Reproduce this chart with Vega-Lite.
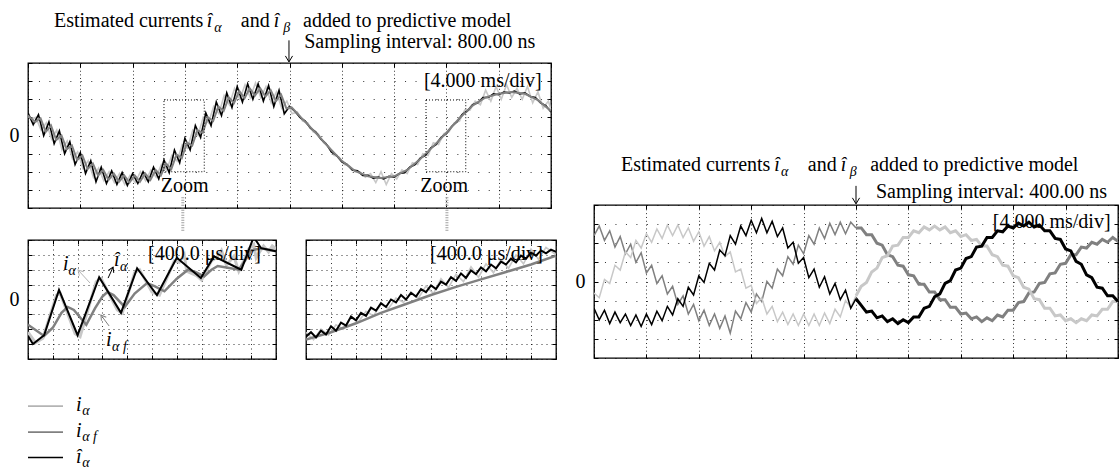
{
"$schema":"https://vega.github.io/schema/vega-lite/v6.json",
"background":"white",
"padding":{"left":8,"top":10,"right":0,"bottom":0},
"config":{
 "font":"Liberation Serif",
 "view":{"stroke":"black","strokeWidth":1.3},
 "axis":{"domain":false,"tickColor":"black","tickSize":-4,"tickWidth":1,"gridColor":"black","gridWidth":1,"gridOpacity":0.8,"labelFont":"Liberation Serif","labelFontSize":{"condition":{"test":"datum.value === 0","value":20},"value":0.1},"labelColor":"black","labelPadding":13,"labelOverlap":false},
 "text":{"font":"Liberation Serif","fontSize":20,"color":"black","align":"left","baseline":"alphabetic"}
},
"spacing":16,
"hconcat":[
 {"spacing":4,"vconcat":[
   {"width":523,"height":145,
    "resolve":{"axis":{"x":"independent","y":"independent"}},
    "layer":[
     {"data":{"values":[{"x":0,"y":1.1},{"x":0.05,"y":0.9},{"x":0.15,"y":1.0},{"x":0.25,"y":0.3},{"x":0.35,"y":0.7},{"x":0.45,"y":-0.2},{"x":0.55,"y":0.3},{"x":0.65,"y":-0.8},{"x":0.75,"y":-0.3},{"x":0.85,"y":-1.3},{"x":0.95,"y":-0.9},{"x":1.05,"y":-1.8},{"x":1.15,"y":-1.4},{"x":1.25,"y":-2.3},{"x":1.35,"y":-1.8},{"x":1.45,"y":-2.5},{"x":1.55,"y":-2.0},{"x":1.65,"y":-2.6},{"x":1.75,"y":-2.1},{"x":1.85,"y":-2.7},{"x":1.95,"y":-2.2},{"x":2.05,"y":-2.6},{"x":2.15,"y":-2.0},{"x":2.25,"y":-2.5},{"x":2.35,"y":-1.9},{"x":2.45,"y":-2.3},{"x":2.55,"y":-1.6},{"x":2.65,"y":-1.9},{"x":2.75,"y":-1.1},{"x":2.85,"y":-1.4},{"x":2.95,"y":-0.5},{"x":3.05,"y":-0.7},{"x":3.15,"y":0.3},{"x":3.25,"y":0.0},{"x":3.35,"y":1.0},{"x":3.45,"y":0.7},{"x":3.55,"y":1.6},{"x":3.65,"y":1.2},{"x":3.75,"y":2.2},{"x":3.85,"y":1.7},{"x":3.95,"y":2.6},{"x":4.05,"y":2.0},{"x":4.15,"y":2.8},{"x":4.25,"y":2.1},{"x":4.35,"y":2.9},{"x":4.45,"y":2.1},{"x":4.55,"y":2.7},{"x":4.65,"y":1.8},{"x":4.75,"y":2.4},{"x":4.85,"y":1.5},{"x":4.95,"y":1.9},{"x":5.05,"y":1.2},{"x":5.15,"y":1.3},{"x":5.25,"y":0.8},{"x":5.35,"y":0.7},{"x":5.45,"y":0.2},{"x":5.55,"y":0.1},{"x":5.65,"y":-0.4},{"x":5.75,"y":-0.6},{"x":5.85,"y":-1.1},{"x":5.95,"y":-1.2},{"x":6.05,"y":-1.6},{"x":6.15,"y":-1.7},{"x":6.25,"y":-2.0},{"x":6.35,"y":-2.0},{"x":6.45,"y":-2.3},{"x":6.55,"y":-2.1},{"x":6.65,"y":-2.6},{"x":6.75,"y":-2.0},{"x":6.85,"y":-2.7},{"x":6.95,"y":-2.1},{"x":7.05,"y":-2.4},{"x":7.15,"y":-1.9},{"x":7.25,"y":-2.1},{"x":7.35,"y":-1.5},{"x":7.45,"y":-1.6},{"x":7.55,"y":-1.0},{"x":7.65,"y":-1.1},{"x":7.75,"y":-0.4},{"x":7.85,"y":-0.5},{"x":7.95,"y":0.1},{"x":8.05,"y":0.2},{"x":8.15,"y":0.7},{"x":8.25,"y":0.8},{"x":8.35,"y":1.4},{"x":8.45,"y":1.4},{"x":8.55,"y":1.9},{"x":8.65,"y":1.7},{"x":8.75,"y":2.5},{"x":8.85,"y":1.9},{"x":8.95,"y":2.7},{"x":9.05,"y":2.0},{"x":9.15,"y":2.8},{"x":9.25,"y":2.1},{"x":9.35,"y":2.6},{"x":9.45,"y":2.0},{"x":9.55,"y":2.7},{"x":9.65,"y":1.8},{"x":9.75,"y":2.4},{"x":9.85,"y":1.5},{"x":9.95,"y":1.9},{"x":10,"y":1.4}]},
      "mark":{"type":"line","color":"#c8c8c8","strokeWidth":1.6,"clip":true},
      "encoding":{
       "x":{"field":"x","type":"quantitative","scale":{"domain":[0,10],"nice":false,"zero":false},"axis":{"orient":"bottom","values":[0,1,2,3,4,5,6,7,8,9,10],"labels":false,"title":null,"grid":true,"gridDash":[1,2.62]}},
       "y":{"field":"y","type":"quantitative","scale":{"domain":[-4,4],"nice":false,"zero":false},"axis":{"orient":"left","values":[-4,-3,-2,-1,0,1,2,3,4],"title":null,"grid":true,"gridDash":[1,9.46],"labelExpr":"datum.value === 0 ? '0' : ''"}}}},
     {"data":{"values":[{"x":0,"y":1.25},{"x":0.1,"y":0.6},{"x":0.2,"y":1.15},{"x":0.3,"y":0.0},{"x":0.4,"y":0.75},{"x":0.5,"y":-0.45},{"x":0.6,"y":0.25},{"x":0.7,"y":-1.0},{"x":0.8,"y":-0.35},{"x":0.9,"y":-1.6},{"x":1.0,"y":-0.95},{"x":1.1,"y":-2.1},{"x":1.2,"y":-1.4},{"x":1.3,"y":-2.55},{"x":1.4,"y":-1.75},{"x":1.5,"y":-2.65},{"x":1.6,"y":-1.95},{"x":1.7,"y":-2.7},{"x":1.8,"y":-2.05},{"x":1.9,"y":-2.75},{"x":2.0,"y":-2.1},{"x":2.1,"y":-2.65},{"x":2.2,"y":-2.0},{"x":2.3,"y":-2.55},{"x":2.4,"y":-1.75},{"x":2.5,"y":-2.4},{"x":2.6,"y":-1.35},{"x":2.7,"y":-2.05},{"x":2.8,"y":-0.8},{"x":2.9,"y":-1.5},{"x":3.0,"y":-0.15},{"x":3.1,"y":-0.8},{"x":3.2,"y":0.55},{"x":3.3,"y":-0.1},{"x":3.4,"y":1.25},{"x":3.5,"y":0.55},{"x":3.6,"y":1.85},{"x":3.7,"y":1.1},{"x":3.8,"y":2.35},{"x":3.9,"y":1.55},{"x":4.0,"y":2.7},{"x":4.1,"y":1.85},{"x":4.2,"y":2.85},{"x":4.3,"y":2.0},{"x":4.4,"y":2.85},{"x":4.5,"y":1.9},{"x":4.6,"y":2.75},{"x":4.7,"y":1.6},{"x":4.8,"y":2.5},{"x":4.9,"y":1.2},{"x":5.0,"y":1.6},{"x":5.1,"y":1.35},{"x":5.2,"y":1.0},{"x":5.3,"y":0.8},{"x":5.4,"y":0.4},{"x":5.5,"y":0.2},{"x":5.6,"y":-0.2},{"x":5.7,"y":-0.45},{"x":5.8,"y":-0.9},{"x":5.9,"y":-1.1},{"x":6.0,"y":-1.45},{"x":6.1,"y":-1.6},{"x":6.2,"y":-1.9},{"x":6.3,"y":-1.95},{"x":6.4,"y":-2.2},{"x":6.5,"y":-2.2},{"x":6.6,"y":-2.35},{"x":6.7,"y":-2.3},{"x":6.8,"y":-2.4},{"x":6.9,"y":-2.25},{"x":7.0,"y":-2.3},{"x":7.1,"y":-2.1},{"x":7.2,"y":-2.05},{"x":7.3,"y":-1.75},{"x":7.4,"y":-1.6},{"x":7.5,"y":-1.25},{"x":7.6,"y":-1.1},{"x":7.7,"y":-0.7},{"x":7.8,"y":-0.5},{"x":7.9,"y":-0.1},{"x":8.0,"y":0.1},{"x":8.1,"y":0.5},{"x":8.2,"y":0.75},{"x":8.3,"y":1.15},{"x":8.4,"y":1.35},{"x":8.5,"y":1.7},{"x":8.6,"y":1.8},{"x":8.7,"y":2.1},{"x":8.8,"y":2.1},{"x":8.9,"y":2.3},{"x":9.0,"y":2.25},{"x":9.1,"y":2.4},{"x":9.2,"y":2.35},{"x":9.3,"y":2.45},{"x":9.4,"y":2.3},{"x":9.5,"y":2.35},{"x":9.6,"y":2.15},{"x":9.7,"y":2.1},{"x":9.8,"y":1.8},{"x":9.9,"y":1.65},{"x":10.0,"y":1.3}]},
      "mark":{"type":"line","color":"#000000","strokeWidth":1.6,"clip":true},
      "encoding":{"x":{"field":"x","type":"quantitative","axis":null},"y":{"field":"y","type":"quantitative","axis":null}}},
     {"data":{"values":[{"x":0,"y":1.1},{"x":0.14,"y":0.75},{"x":0.24,"y":0.95},{"x":0.34,"y":0.2},{"x":0.44,"y":0.55},{"x":0.54,"y":-0.25},{"x":0.64,"y":0.0},{"x":0.74,"y":-0.75},{"x":0.84,"y":-0.55},{"x":0.94,"y":-1.35},{"x":1.04,"y":-1.1},{"x":1.14,"y":-1.85},{"x":1.24,"y":-1.55},{"x":1.34,"y":-2.2},{"x":1.44,"y":-1.9},{"x":1.54,"y":-2.45},{"x":1.64,"y":-2.1},{"x":1.74,"y":-2.55},{"x":1.84,"y":-2.2},{"x":1.94,"y":-2.6},{"x":2.04,"y":-2.2},{"x":2.14,"y":-2.55},{"x":2.24,"y":-2.1},{"x":2.34,"y":-2.45},{"x":2.44,"y":-1.9},{"x":2.54,"y":-2.2},{"x":2.64,"y":-1.55},{"x":2.74,"y":-1.85},{"x":2.84,"y":-1.05},{"x":2.94,"y":-1.25},{"x":3.04,"y":-0.4},{"x":3.14,"y":-0.55},{"x":3.24,"y":0.3},{"x":3.34,"y":0.15},{"x":3.44,"y":1.0},{"x":3.54,"y":0.8},{"x":3.64,"y":1.6},{"x":3.74,"y":1.35},{"x":3.84,"y":2.1},{"x":3.94,"y":1.8},{"x":4.04,"y":2.45},{"x":4.14,"y":2.05},{"x":4.24,"y":2.6},{"x":4.34,"y":2.2},{"x":4.44,"y":2.6},{"x":4.54,"y":2.15},{"x":4.64,"y":2.5},{"x":4.74,"y":1.9},{"x":4.84,"y":2.25},{"x":4.94,"y":1.5},{"x":5.04,"y":1.55},{"x":5.25,"y":0.9},{"x":5.5,"y":0.15},{"x":5.75,"y":-0.65},{"x":6.0,"y":-1.4},{"x":6.25,"y":-1.95},{"x":6.5,"y":-2.25},{"x":6.75,"y":-2.35},{"x":7.0,"y":-2.25},{"x":7.25,"y":-1.9},{"x":7.5,"y":-1.3},{"x":7.75,"y":-0.6},{"x":8.0,"y":0.15},{"x":8.25,"y":0.95},{"x":8.5,"y":1.65},{"x":8.75,"y":2.1},{"x":9.0,"y":2.3},{"x":9.25,"y":2.4},{"x":9.5,"y":2.3},{"x":9.75,"y":1.95},{"x":10.0,"y":1.35}]},
      "mark":{"type":"line","color":"#808080","strokeWidth":2,"clip":true},
      "encoding":{"x":{"field":"x","type":"quantitative","axis":null},"y":{"field":"y","type":"quantitative","axis":null}}},
     {"data":{"values":[{"x":0,"y":0}]},
      "mark":{"type":"point","opacity":0},
      "encoding":{"x":{"field":"x","type":"quantitative","axis":{"orient":"top","values":[0,1,2,3,4,5,6,7,8,9,10],"labels":false,"title":null,"grid":false}},"y":{"field":"y","type":"quantitative","axis":{"orient":"right","values":[-4,-3,-2,-1,0,1,2,3,4],"labels":false,"title":null,"grid":false}}}},
     {"data":{"values":[{"x":2.6,"x2":3.37,"y":-2,"y2":1.96},{"x":7.61,"x2":8.37,"y":-2,"y2":1.96}]},
      "mark":{"type":"rect","filled":false,"stroke":"black","strokeWidth":1,"strokeDash":[1,2]},
      "encoding":{"x":{"field":"x","type":"quantitative","axis":null},"x2":{"field":"x2"},"y":{"field":"y","type":"quantitative","axis":null},"y2":{"field":"y2"}}},
     {"data":{"values":[{"x":2.96,"y":-3.4,"y2":-5.3},{"x":8.01,"y":-3.4,"y2":-5.3}]},
      "mark":{"type":"rule","color":"#a0a0a0","strokeWidth":3,"strokeDash":[1,1.5]},
      "encoding":{"x":{"field":"x","type":"quantitative","axis":null},"y":{"field":"y","type":"quantitative","axis":null},"y2":{"field":"y2"}}},
     {"data":{"values":[{"x":4.99,"y":5.25,"y2":4.08}]},
      "mark":{"type":"rule","color":"black","strokeWidth":1},
      "encoding":{"x":{"field":"x","type":"quantitative","axis":null},"y":{"field":"y","type":"quantitative","axis":null},"y2":{"field":"y2"}}},
     {"data":{"values":[{"x":4.99,"y":4.06}]},
      "mark":{"type":"point","shape":"M-0.6,-1L0,0L0.6,-1","size":144,"filled":false,"stroke":"black","strokeWidth":1,"opacity":1},
      "encoding":{"x":{"field":"x","type":"quantitative","axis":null},"y":{"field":"y","type":"quantitative","axis":null}}},
     {"data":{"values":[{"x":0.497,"y":6.0,"t":"Estimated currents"},{"x":4.07,"y":6.0,"t":"and"},{"x":5.26,"y":6.0,"t":"added to predictive model"},{"x":5.28,"y":4.83,"t":"Sampling interval: 800.00 ns"},{"x":7.57,"y":2.68,"t":"[4.000 ms/div]"},{"x":2.54,"y":-3.12,"t":"Zoom"},{"x":7.5,"y":-3.12,"t":"Zoom"}]},
      "mark":{"type":"text"},
      "encoding":{"x":{"field":"x","type":"quantitative","axis":null},"y":{"field":"y","type":"quantitative","axis":null},"text":{"field":"t"}}},
     {"data":{"values":[{"x":3.42,"y":6.0,"t":"î"},{"x":4.7,"y":6.0,"t":"î"}]},
      "mark":{"type":"text","fontStyle":"italic"},
      "encoding":{"x":{"field":"x","type":"quantitative","axis":null},"y":{"field":"y","type":"quantitative","axis":null},"text":{"field":"t"}}},
     {"data":{"values":[{"x":3.56,"y":6.0,"t":"α"},{"x":4.88,"y":6.0,"t":"β"}]},
      "mark":{"type":"text","fontStyle":"italic","fontSize":14,"dy":5},
      "encoding":{"x":{"field":"x","type":"quantitative","axis":null},"y":{"field":"y","type":"quantitative","axis":null},"text":{"field":"t"}}}
    ]},
   {"spacing":24,"hconcat":[
    {"width":248,"height":119,
     "resolve":{"axis":{"x":"independent","y":"independent"}},
     "layer":[
      {"data":{"values":[{"x":0,"y":-2.2},{"x":0.3,"y":-2.9},{"x":0.6,"y":-2.6},{"x":1.15,"y":0.3},{"x":1.3,"y":0.4},{"x":1.9,"y":-2.3},{"x":2.1,"y":-2.5},{"x":2.75,"y":1.2},{"x":2.95,"y":1.4},{"x":3.6,"y":-0.7},{"x":3.8,"y":-0.9},{"x":4.3,"y":1.8},{"x":4.5,"y":2.0},{"x":5.0,"y":0.5},{"x":5.3,"y":0.3},{"x":5.9,"y":2.6},{"x":6.1,"y":2.5},{"x":6.3,"y":3.0},{"x":6.4,"y":1.9},{"x":6.8,"y":1.6},{"x":7.0,"y":1.3},{"x":7.4,"y":2.6},{"x":7.6,"y":2.8},{"x":7.8,"y":3.3},{"x":8.0,"y":2.3},{"x":8.3,"y":2.9},{"x":8.5,"y":1.9},{"x":8.7,"y":2.6},{"x":8.9,"y":3.4},{"x":9.1,"y":3.7},{"x":9.2,"y":2.8},{"x":9.3,"y":3.1},{"x":9.5,"y":3.6},{"x":9.7,"y":3.2},{"x":9.85,"y":3.6},{"x":10,"y":3.4}]},
       "mark":{"type":"line","color":"#c8c8c8","strokeWidth":3,"clip":true},
       "encoding":{
        "x":{"field":"x","type":"quantitative","scale":{"domain":[0,10],"nice":false,"zero":false},"axis":{"orient":"bottom","values":[0,1,2,3,4,5,6,7,8,9,10],"labels":false,"title":null,"grid":true,"gridDash":[1,3.5]}},
        "y":{"field":"y","type":"quantitative","scale":{"domain":[-4,4],"nice":false,"zero":false},"axis":{"orient":"left","values":[-4,-3,-2,-1,0,1,2,3,4],"title":null,"grid":true,"gridDash":[1,4],"labelExpr":"datum.value === 0 ? '0' : ''"}}}},
      {"data":{"values":[{"x":0,"y":-1.7},{"x":0.65,"y":-2.45},{"x":1.0,"y":-1.9},{"x":1.35,"y":-0.9},{"x":1.6,"y":-0.5},{"x":1.85,"y":-0.7},{"x":2.35,"y":-1.7},{"x":2.7,"y":-0.6},{"x":3.0,"y":0.2},{"x":3.2,"y":0.5},{"x":3.45,"y":0.3},{"x":3.9,"y":-0.5},{"x":4.3,"y":0.4},{"x":4.8,"y":1.1},{"x":5.1,"y":0.9},{"x":5.5,"y":0.55},{"x":6.0,"y":1.4},{"x":6.45,"y":2.0},{"x":6.75,"y":1.85},{"x":7.1,"y":1.55},{"x":7.4,"y":2.0},{"x":7.65,"y":2.25},{"x":8.0,"y":2.15},{"x":8.5,"y":2.0},{"x":8.75,"y":2.6},{"x":9.0,"y":3.3},{"x":9.4,"y":3.45},{"x":10,"y":3.25}]},
       "mark":{"type":"line","color":"#808080","strokeWidth":2.5,"clip":true},
       "encoding":{"x":{"field":"x","type":"quantitative","axis":null},"y":{"field":"y","type":"quantitative","axis":null}}},
      {"data":{"values":[{"x":0,"y":-2.45},{"x":0.2,"y":-3.0},{"x":0.65,"y":-2.4},{"x":1.25,"y":0.65},{"x":2.0,"y":-2.4},{"x":2.87,"y":1.5},{"x":3.75,"y":-0.9},{"x":4.4,"y":2.1},{"x":5.2,"y":0.3},{"x":6.0,"y":2.8},{"x":6.97,"y":1.45},{"x":7.5,"y":2.9},{"x":8.6,"y":2.0},{"x":9.1,"y":4.2},{"x":9.4,"y":3.45},{"x":10,"y":3.25}]},
       "mark":{"type":"line","color":"#000000","strokeWidth":2,"clip":true},
       "encoding":{"x":{"field":"x","type":"quantitative","axis":null},"y":{"field":"y","type":"quantitative","axis":null}}},
      {"data":{"values":[{"x":0,"y":0}]},
       "mark":{"type":"point","opacity":0},
       "encoding":{"x":{"field":"x","type":"quantitative","axis":{"orient":"top","values":[0,1,2,3,4,5,6,7,8,9,10],"labels":false,"title":null,"grid":false}},"y":{"field":"y","type":"quantitative","axis":{"orient":"right","values":[-4,-3,-2,-1,0,1,2,3,4],"labels":false,"title":null,"grid":false}}}},
      {"data":{"values":[{"x":2.5,"y":1.11,"x2":2.02,"y2":1.98,"c":"a"},{"x":3.23,"y":1.44,"x2":3.43,"y2":2.18,"c":"c"},{"x":3.27,"y":-1.78,"x2":2.94,"y2":-1.04,"c":"b"}]},
       "mark":{"type":"rule","strokeWidth":1},
       "encoding":{"x":{"field":"x","type":"quantitative","axis":null},"y":{"field":"y","type":"quantitative","axis":null},"x2":{"field":"x2"},"y2":{"field":"y2"},"color":{"field":"c","type":"nominal","scale":{"domain":["a","b","c"],"range":["#b4b4b4","#808080","#000000"]},"legend":null}}},
      {"data":{"values":[{"x":2.02,"y":1.98,"a":-43,"c":"a"},{"x":3.43,"y":2.18,"a":24,"c":"c"},{"x":2.94,"y":-1.04,"a":-36,"c":"b"}]},
       "mark":{"type":"point","shape":"M-0.6,1L0,0L0.6,1","size":100,"filled":false,"strokeWidth":1,"opacity":1},
       "encoding":{"x":{"field":"x","type":"quantitative","axis":null},"y":{"field":"y","type":"quantitative","axis":null},"angle":{"field":"a","type":"quantitative","scale":null},"color":{"field":"c","type":"nominal","scale":{"domain":["a","b","c"],"range":["#b4b4b4","#808080","#000000"]},"legend":null}}},
      {"data":{"values":[{"x":4.84,"y":2.65,"t":"[400.0 μs/div]"}]},
       "mark":{"type":"text"},
       "encoding":{"x":{"field":"x","type":"quantitative","axis":null},"y":{"field":"y","type":"quantitative","axis":null},"text":{"field":"t"}}},
      {"data":{"values":[{"x":1.41,"y":1.98,"t":"i"},{"x":3.47,"y":2.25,"t":"î"},{"x":3.15,"y":-3.12,"t":"i"}]},
       "mark":{"type":"text","fontStyle":"italic"},
       "encoding":{"x":{"field":"x","type":"quantitative","axis":null},"y":{"field":"y","type":"quantitative","axis":null},"text":{"field":"t"}}},
      {"data":{"values":[{"x":1.63,"y":1.98,"t":"α"},{"x":3.71,"y":2.25,"t":"α"},{"x":3.39,"y":-3.12,"t":"α f"}]},
       "mark":{"type":"text","fontStyle":"italic","fontSize":14,"dy":5},
       "encoding":{"x":{"field":"x","type":"quantitative","axis":null},"y":{"field":"y","type":"quantitative","axis":null},"text":{"field":"t"}}}
     ]},
    {"width":250,"height":119,
     "resolve":{"axis":{"x":"independent","y":"independent"}},
     "layer":[
      {"data":{"values":[{"x":0,"y":-2.2},{"x":0.3,"y":-2.7},{"x":0.6,"y":-2.0},{"x":0.9,"y":-2.4},{"x":1.2,"y":-1.7},{"x":1.5,"y":-2.0},{"x":1.8,"y":-1.2},{"x":2.1,"y":-1.5},{"x":2.4,"y":-0.8},{"x":2.7,"y":-1.1},{"x":3.0,"y":-0.3},{"x":3.3,"y":-0.6},{"x":3.6,"y":0.1},{"x":3.9,"y":-0.2},{"x":4.2,"y":0.5},{"x":4.5,"y":0.1},{"x":4.8,"y":0.9},{"x":5.1,"y":0.4},{"x":5.4,"y":1.4},{"x":5.7,"y":0.8},{"x":6.0,"y":1.7},{"x":6.3,"y":1.2},{"x":6.6,"y":2.2},{"x":6.9,"y":1.5},{"x":7.2,"y":2.4},{"x":7.5,"y":1.8},{"x":7.8,"y":2.7},{"x":8.1,"y":2.1},{"x":8.4,"y":3.0},{"x":8.7,"y":2.4},{"x":9.0,"y":3.4},{"x":9.3,"y":2.7},{"x":9.6,"y":3.5},{"x":10,"y":3.0}]},
       "mark":{"type":"line","color":"#c8c8c8","strokeWidth":1.6,"clip":true},
       "encoding":{
        "x":{"field":"x","type":"quantitative","scale":{"domain":[0,10],"nice":false,"zero":false},"axis":{"orient":"bottom","values":[0,1,2,3,4,5,6,7,8,9,10],"labels":false,"title":null,"grid":true,"gridDash":[1,3.5]}},
        "y":{"field":"y","type":"quantitative","scale":{"domain":[-4,4],"nice":false,"zero":false},"axis":{"orient":"left","values":[-4,-3,-2,-1,0,1,2,3,4],"labels":false,"title":null,"grid":true,"gridDash":[1,4]}}}},
      {"data":{"values":[{"x":0,"y":-2.7},{"x":1,"y":-2.2},{"x":2,"y":-1.6},{"x":3,"y":-0.9},{"x":4,"y":-0.3},{"x":5,"y":0.3},{"x":6,"y":0.85},{"x":7,"y":1.35},{"x":8,"y":1.85},{"x":9,"y":2.35},{"x":10,"y":2.95}]},
       "mark":{"type":"line","color":"#808080","strokeWidth":2.5,"clip":true},
       "encoding":{"x":{"field":"x","type":"quantitative","axis":null},"y":{"field":"y","type":"quantitative","axis":null}}},
      {"data":{"values":[{"x":0,"y":-2.5},{"x":0.2,"y":-2.2},{"x":0.4,"y":-2.55},{"x":0.6,"y":-2.1},{"x":0.8,"y":-2.35},{"x":1.0,"y":-1.8},{"x":1.2,"y":-2.1},{"x":1.4,"y":-1.55},{"x":1.6,"y":-1.75},{"x":1.8,"y":-1.15},{"x":2.0,"y":-1.4},{"x":2.2,"y":-0.9},{"x":2.4,"y":-1.1},{"x":2.6,"y":-0.55},{"x":2.8,"y":-0.75},{"x":3.0,"y":-0.25},{"x":3.2,"y":-0.5},{"x":3.4,"y":0.0},{"x":3.6,"y":-0.2},{"x":3.8,"y":0.3},{"x":4.0,"y":0.0},{"x":4.2,"y":0.45},{"x":4.4,"y":0.2},{"x":4.6,"y":0.7},{"x":4.8,"y":0.5},{"x":5.0,"y":0.95},{"x":5.2,"y":0.7},{"x":5.4,"y":1.2},{"x":5.6,"y":1.0},{"x":5.8,"y":1.5},{"x":6.0,"y":1.25},{"x":6.2,"y":1.75},{"x":6.4,"y":1.45},{"x":6.6,"y":1.95},{"x":6.8,"y":1.7},{"x":7.0,"y":2.15},{"x":7.2,"y":1.9},{"x":7.4,"y":2.35},{"x":7.6,"y":2.1},{"x":7.8,"y":2.55},{"x":8.0,"y":2.35},{"x":8.2,"y":2.75},{"x":8.4,"y":2.5},{"x":8.6,"y":2.95},{"x":8.8,"y":2.75},{"x":9.0,"y":3.15},{"x":9.2,"y":2.95},{"x":9.4,"y":3.3},{"x":9.6,"y":3.1},{"x":9.8,"y":3.35},{"x":10.0,"y":3.2}]},
       "mark":{"type":"line","color":"#000000","strokeWidth":2,"clip":true},
       "encoding":{"x":{"field":"x","type":"quantitative","axis":null},"y":{"field":"y","type":"quantitative","axis":null}}},
      {"data":{"values":[{"x":0,"y":0}]},
       "mark":{"type":"point","opacity":0},
       "encoding":{"x":{"field":"x","type":"quantitative","axis":{"orient":"top","values":[0,1,2,3,4,5,6,7,8,9,10],"labels":false,"title":null,"grid":false}},"y":{"field":"y","type":"quantitative","axis":{"orient":"right","values":[-4,-3,-2,-1,0,1,2,3,4],"labels":false,"title":null,"grid":false}}}},
      {"data":{"values":[{"x":4.96,"y":2.65,"t":"[400.0 μs/div]"}]},
       "mark":{"type":"text"},
       "encoding":{"x":{"field":"x","type":"quantitative","axis":null},"y":{"field":"y","type":"quantitative","axis":null},"text":{"field":"t"}}}
     ]}
   ]},
  {"width":140,"height":104,"view":{"stroke":null,"fill":"white"},
   "layer":[
    {"data":{"values":[{"k":"a","x":0,"x2":1,"y":2.42},{"k":"b","x":0,"x2":1,"y":1.42},{"k":"c","x":0,"x2":1,"y":0.44}]},
     "mark":{"type":"rule","strokeWidth":1.6},
     "encoding":{"x":{"field":"x","type":"quantitative","scale":{"domain":[0,4],"nice":false,"zero":false},"axis":null},"x2":{"field":"x2"},"y":{"field":"y","type":"quantitative","scale":{"domain":[0,4],"nice":false,"zero":false},"axis":null},"color":{"field":"k","type":"nominal","scale":{"domain":["a","b","c"],"range":["#c8c8c8","#808080","#000000"]},"legend":null}}},
    {"data":{"values":[{"x":1.37,"y":2.42,"t":"i"},{"x":1.37,"y":1.42,"t":"i"},{"x":1.37,"y":0.44,"t":"î"}]},
     "mark":{"type":"text","fontStyle":"italic","dy":5},
     "encoding":{"x":{"field":"x","type":"quantitative","axis":null},"y":{"field":"y","type":"quantitative","axis":null},"text":{"field":"t"}}},
    {"data":{"values":[{"x":1.55,"y":2.42,"t":"α"},{"x":1.55,"y":1.42,"t":"α f"},{"x":1.55,"y":0.44,"t":"α"}]},
     "mark":{"type":"text","fontStyle":"italic","fontSize":14,"dy":9},
     "encoding":{"x":{"field":"x","type":"quantitative","axis":null},"y":{"field":"y","type":"quantitative","axis":null},"text":{"field":"t"}}}
   ]}
 ]},
 {"spacing":10,"vconcat":[
  {"width":1,"height":81,"view":{"stroke":null,"fill":"white"},"data":{"values":[{"t":""}]},"mark":{"type":"text"},"encoding":{"text":{"field":"t"}}},
  {"width":524,"height":153,
   "resolve":{"axis":{"x":"independent","y":"independent"}},
   "layer":[
    {"data":{"values":[{"x":0,"y":2.4},{"x":0.1,"y":2.9},{"x":0.2,"y":2.15},{"x":0.3,"y":2.65},{"x":0.4,"y":1.8},{"x":0.5,"y":2.35},{"x":0.6,"y":1.45},{"x":0.7,"y":1.95},{"x":0.8,"y":1.0},{"x":0.9,"y":1.5},{"x":1.0,"y":0.45},{"x":1.1,"y":0.85},{"x":1.2,"y":-0.1},{"x":1.3,"y":0.3},{"x":1.4,"y":-0.65},{"x":1.5,"y":-0.25},{"x":1.6,"y":-1.2},{"x":1.7,"y":-0.75},{"x":1.8,"y":-1.7},{"x":1.9,"y":-1.2},{"x":2.0,"y":-2.05},{"x":2.1,"y":-1.5},{"x":2.2,"y":-2.3},{"x":2.3,"y":-1.7},{"x":2.4,"y":-2.45},{"x":2.5,"y":-1.8},{"x":2.6,"y":-2.7},{"x":2.7,"y":-1.55},{"x":2.8,"y":-1.95},{"x":2.9,"y":-1.1},{"x":3.0,"y":-1.6},{"x":3.1,"y":-0.65},{"x":3.2,"y":-1.05},{"x":3.3,"y":0.0},{"x":3.4,"y":-0.35},{"x":3.5,"y":0.65},{"x":3.6,"y":0.3},{"x":3.7,"y":1.3},{"x":3.8,"y":0.9},{"x":3.9,"y":1.9},{"x":4.0,"y":1.45},{"x":4.1,"y":2.4},{"x":4.2,"y":1.95},{"x":4.3,"y":2.8},{"x":4.4,"y":2.25},{"x":4.5,"y":3.05},{"x":4.6,"y":2.45},{"x":4.7,"y":3.1},{"x":4.8,"y":2.5},{"x":4.9,"y":3.1},{"x":5.0,"y":2.8}]},
     "mark":{"type":"line","color":"#808080","strokeWidth":1.5,"clip":true},
     "encoding":{
      "x":{"field":"x","type":"quantitative","scale":{"domain":[0,10],"nice":false,"zero":false},"axis":{"orient":"bottom","values":[0,1,2,3,4,5,6,7,8,9,10],"labels":false,"title":null,"grid":true,"gridDash":[1,2.82]}},
      "y":{"field":"y","type":"quantitative","scale":{"domain":[-4,4],"nice":false,"zero":false},"axis":{"orient":"left","values":[-4,-3,-2,-1,0,1,2,3,4],"title":null,"grid":true,"gridDash":[1,9.48],"labelExpr":"datum.value === 0 ? '0' : ''"}}}},
    {"data":{"values":[{"x":5.0,"y":2.8},{"x":5.1,"y":2.8},{"x":5.2,"y":2.45},{"x":5.3,"y":2.45},{"x":5.4,"y":2.0},{"x":5.5,"y":1.9},{"x":5.6,"y":1.4},{"x":5.7,"y":1.3},{"x":5.8,"y":0.85},{"x":5.9,"y":0.8},{"x":6.0,"y":0.35},{"x":6.1,"y":0.3},{"x":6.2,"y":-0.15},{"x":6.3,"y":-0.15},{"x":6.4,"y":-0.55},{"x":6.5,"y":-0.55},{"x":6.6,"y":-0.95},{"x":6.7,"y":-0.95},{"x":6.8,"y":-1.35},{"x":6.9,"y":-1.35},{"x":7.0,"y":-1.7},{"x":7.1,"y":-1.65},{"x":7.2,"y":-1.95},{"x":7.3,"y":-1.85},{"x":7.4,"y":-2.1},{"x":7.5,"y":-1.9},{"x":7.6,"y":-2.05},{"x":7.7,"y":-1.75},{"x":7.8,"y":-1.85},{"x":7.9,"y":-1.5},{"x":8.0,"y":-1.5},{"x":8.1,"y":-1.1},{"x":8.2,"y":-1.05},{"x":8.3,"y":-0.6},{"x":8.4,"y":-0.55},{"x":8.5,"y":-0.1},{"x":8.6,"y":-0.05},{"x":8.7,"y":0.4},{"x":8.8,"y":0.45},{"x":8.9,"y":0.9},{"x":9.0,"y":0.95},{"x":9.1,"y":1.4},{"x":9.2,"y":1.4},{"x":9.3,"y":1.8},{"x":9.4,"y":1.75},{"x":9.5,"y":2.05},{"x":9.6,"y":1.95},{"x":9.7,"y":2.2},{"x":9.8,"y":2.05},{"x":9.9,"y":2.3},{"x":10.0,"y":2.1}]},
     "mark":{"type":"line","color":"#808080","strokeWidth":3,"clip":true},
     "encoding":{"x":{"field":"x","type":"quantitative","axis":null},"y":{"field":"y","type":"quantitative","axis":null}}},
    {"data":{"values":[{"x":0,"y":-0.6},{"x":0.1,"y":-0.85},{"x":0.2,"y":0.1},{"x":0.3,"y":-0.1},{"x":0.4,"y":0.85},{"x":0.5,"y":0.6},{"x":0.6,"y":1.55},{"x":0.7,"y":1.25},{"x":0.8,"y":2.15},{"x":0.9,"y":1.75},{"x":1.0,"y":2.5},{"x":1.1,"y":2.05},{"x":1.2,"y":2.75},{"x":1.3,"y":2.25},{"x":1.4,"y":2.95},{"x":1.5,"y":2.4},{"x":1.6,"y":2.95},{"x":1.7,"y":2.3},{"x":1.8,"y":2.8},{"x":1.9,"y":2.1},{"x":2.0,"y":2.6},{"x":2.1,"y":1.85},{"x":2.2,"y":2.35},{"x":2.3,"y":1.6},{"x":2.4,"y":2.05},{"x":2.5,"y":1.3},{"x":2.6,"y":1.55},{"x":2.7,"y":0.5},{"x":2.8,"y":0.65},{"x":2.9,"y":-0.35},{"x":3.0,"y":-0.2},{"x":3.1,"y":-1.15},{"x":3.2,"y":-0.85},{"x":3.3,"y":-1.7},{"x":3.4,"y":-1.3},{"x":3.5,"y":-2.1},{"x":3.6,"y":-1.6},{"x":3.7,"y":-2.25},{"x":3.8,"y":-1.7},{"x":3.9,"y":-2.3},{"x":4.0,"y":-1.7},{"x":4.1,"y":-2.3},{"x":4.2,"y":-1.7},{"x":4.3,"y":-2.3},{"x":4.4,"y":-1.65},{"x":4.5,"y":-2.2},{"x":4.6,"y":-1.45},{"x":4.7,"y":-1.85},{"x":4.8,"y":-1.0},{"x":4.9,"y":-1.35},{"x":5.0,"y":-0.75}]},
     "mark":{"type":"line","color":"#c8c8c8","strokeWidth":1.5,"clip":true},
     "encoding":{"x":{"field":"x","type":"quantitative","axis":null},"y":{"field":"y","type":"quantitative","axis":null}}},
    {"data":{"values":[{"x":5.0,"y":-0.75},{"x":5.1,"y":-0.25},{"x":5.2,"y":-0.05},{"x":5.3,"y":0.5},{"x":5.4,"y":0.7},{"x":5.5,"y":1.25},{"x":5.6,"y":1.35},{"x":5.7,"y":1.85},{"x":5.8,"y":1.9},{"x":5.9,"y":2.3},{"x":6.0,"y":2.3},{"x":6.1,"y":2.65},{"x":6.2,"y":2.55},{"x":6.3,"y":2.85},{"x":6.4,"y":2.7},{"x":6.5,"y":2.9},{"x":6.6,"y":2.7},{"x":6.7,"y":2.85},{"x":6.8,"y":2.55},{"x":6.9,"y":2.65},{"x":7.0,"y":2.35},{"x":7.1,"y":2.45},{"x":7.2,"y":2.15},{"x":7.3,"y":2.2},{"x":7.4,"y":1.85},{"x":7.5,"y":1.85},{"x":7.6,"y":1.4},{"x":7.7,"y":1.3},{"x":7.8,"y":0.85},{"x":7.9,"y":0.8},{"x":8.0,"y":0.3},{"x":8.1,"y":0.2},{"x":8.2,"y":-0.3},{"x":8.3,"y":-0.4},{"x":8.4,"y":-0.9},{"x":8.5,"y":-0.95},{"x":8.6,"y":-1.4},{"x":8.7,"y":-1.4},{"x":8.8,"y":-1.8},{"x":8.9,"y":-1.75},{"x":9.0,"y":-2.05},{"x":9.1,"y":-1.95},{"x":9.2,"y":-2.15},{"x":9.3,"y":-1.95},{"x":9.4,"y":-2.05},{"x":9.5,"y":-1.75},{"x":9.6,"y":-1.8},{"x":9.7,"y":-1.45},{"x":9.8,"y":-1.45},{"x":9.9,"y":-1.05},{"x":10.0,"y":-1.05}]},
     "mark":{"type":"line","color":"#c8c8c8","strokeWidth":3,"clip":true},
     "encoding":{"x":{"field":"x","type":"quantitative","axis":null},"y":{"field":"y","type":"quantitative","axis":null}}},
    {"data":{"values":[{"x":0,"y":-1.4},{"x":0.1,"y":-2.0},{"x":0.2,"y":-1.5},{"x":0.3,"y":-2.2},{"x":0.4,"y":-1.6},{"x":0.5,"y":-2.15},{"x":0.6,"y":-1.7},{"x":0.7,"y":-2.3},{"x":0.8,"y":-1.75},{"x":0.9,"y":-2.35},{"x":1.0,"y":-1.7},{"x":1.1,"y":-2.25},{"x":1.2,"y":-1.55},{"x":1.3,"y":-2.05},{"x":1.4,"y":-1.3},{"x":1.5,"y":-1.75},{"x":1.6,"y":-0.9},{"x":1.7,"y":-1.3},{"x":1.8,"y":-0.3},{"x":1.9,"y":-0.7},{"x":2.0,"y":0.3},{"x":2.1,"y":-0.05},{"x":2.2,"y":0.95},{"x":2.3,"y":0.6},{"x":2.4,"y":1.65},{"x":2.5,"y":1.35},{"x":2.6,"y":2.4},{"x":2.7,"y":1.95},{"x":2.8,"y":2.9},{"x":2.9,"y":2.4},{"x":3.0,"y":3.2},{"x":3.1,"y":2.55},{"x":3.2,"y":3.3},{"x":3.3,"y":2.55},{"x":3.4,"y":3.15},{"x":3.5,"y":2.35},{"x":3.6,"y":2.8},{"x":3.7,"y":1.75},{"x":3.8,"y":2.05},{"x":3.9,"y":0.95},{"x":4.0,"y":1.25},{"x":4.1,"y":0.2},{"x":4.2,"y":0.65},{"x":4.3,"y":-0.3},{"x":4.4,"y":0.25},{"x":4.5,"y":-0.65},{"x":4.6,"y":-0.1},{"x":4.7,"y":-0.95},{"x":4.8,"y":-0.45},{"x":4.9,"y":-1.4},{"x":5.0,"y":-0.9}]},
     "mark":{"type":"line","color":"#000000","strokeWidth":1.5,"clip":true},
     "encoding":{"x":{"field":"x","type":"quantitative","axis":null},"y":{"field":"y","type":"quantitative","axis":null}}},
    {"data":{"values":[{"x":5.0,"y":-0.9},{"x":5.1,"y":-1.25},{"x":5.2,"y":-1.6},{"x":5.3,"y":-1.55},{"x":5.4,"y":-1.9},{"x":5.5,"y":-1.8},{"x":5.6,"y":-2.1},{"x":5.7,"y":-1.95},{"x":5.8,"y":-2.2},{"x":5.9,"y":-2.0},{"x":6.0,"y":-2.15},{"x":6.1,"y":-1.85},{"x":6.2,"y":-1.85},{"x":6.3,"y":-1.4},{"x":6.4,"y":-1.3},{"x":6.5,"y":-0.8},{"x":6.6,"y":-0.65},{"x":6.7,"y":-0.1},{"x":6.8,"y":0.05},{"x":6.9,"y":0.6},{"x":7.0,"y":0.7},{"x":7.1,"y":1.2},{"x":7.2,"y":1.3},{"x":7.3,"y":1.8},{"x":7.4,"y":1.85},{"x":7.5,"y":2.3},{"x":7.6,"y":2.3},{"x":7.7,"y":2.65},{"x":7.8,"y":2.6},{"x":7.9,"y":2.9},{"x":8.0,"y":2.8},{"x":8.1,"y":3.05},{"x":8.2,"y":2.9},{"x":8.3,"y":3.1},{"x":8.4,"y":2.85},{"x":8.5,"y":2.95},{"x":8.6,"y":2.65},{"x":8.7,"y":2.65},{"x":8.8,"y":2.25},{"x":8.9,"y":2.2},{"x":9.0,"y":1.7},{"x":9.1,"y":1.6},{"x":9.2,"y":1.05},{"x":9.3,"y":0.9},{"x":9.4,"y":0.35},{"x":9.5,"y":0.2},{"x":9.6,"y":-0.3},{"x":9.7,"y":-0.35},{"x":9.8,"y":-0.75},{"x":9.9,"y":-0.75},{"x":10.0,"y":-1.05}]},
     "mark":{"type":"line","color":"#000000","strokeWidth":3,"clip":true},
     "encoding":{"x":{"field":"x","type":"quantitative","axis":null},"y":{"field":"y","type":"quantitative","axis":null}}},
    {"data":{"values":[{"x":0,"y":0}]},
     "mark":{"type":"point","opacity":0},
     "encoding":{"x":{"field":"x","type":"quantitative","axis":{"orient":"top","values":[0,1,2,3,4,5,6,7,8,9,10],"labels":false,"title":null,"grid":false}},"y":{"field":"y","type":"quantitative","axis":{"orient":"right","values":[-4,-3,-2,-1,0,1,2,3,4],"labels":false,"title":null,"grid":false}}}},
    {"data":{"values":[{"x":5.0,"y":5.0,"y2":4.08}]},
     "mark":{"type":"rule","color":"black","strokeWidth":1},
     "encoding":{"x":{"field":"x","type":"quantitative","axis":null},"y":{"field":"y","type":"quantitative","axis":null},"y2":{"field":"y2"}}},
    {"data":{"values":[{"x":5.0,"y":4.06}]},
     "mark":{"type":"point","shape":"M-0.6,-1L0,0L0.6,-1","size":144,"filled":false,"stroke":"black","strokeWidth":1,"opacity":1},
     "encoding":{"x":{"field":"x","type":"quantitative","axis":null},"y":{"field":"y","type":"quantitative","axis":null}}},
    {"data":{"values":[{"x":0.515,"y":5.79,"t":"Estimated currents"},{"x":4.08,"y":5.79,"t":"and"},{"x":5.27,"y":5.79,"t":"added to predictive model"},{"x":5.38,"y":4.37,"t":"Sampling interval: 400.00 ns"},{"x":7.61,"y":2.8,"t":"[4.000 ms/div]"}]},
     "mark":{"type":"text"},
     "encoding":{"x":{"field":"x","type":"quantitative","axis":null},"y":{"field":"y","type":"quantitative","axis":null},"text":{"field":"t"}}},
    {"data":{"values":[{"x":3.44,"y":5.79,"t":"î"},{"x":4.71,"y":5.79,"t":"î"}]},
     "mark":{"type":"text","fontStyle":"italic"},
     "encoding":{"x":{"field":"x","type":"quantitative","axis":null},"y":{"field":"y","type":"quantitative","axis":null},"text":{"field":"t"}}},
    {"data":{"values":[{"x":3.57,"y":5.79,"t":"α"},{"x":4.88,"y":5.79,"t":"β"}]},
     "mark":{"type":"text","fontStyle":"italic","fontSize":14,"dy":5},
     "encoding":{"x":{"field":"x","type":"quantitative","axis":null},"y":{"field":"y","type":"quantitative","axis":null},"text":{"field":"t"}}}
   ]}
 ]}
]
}
